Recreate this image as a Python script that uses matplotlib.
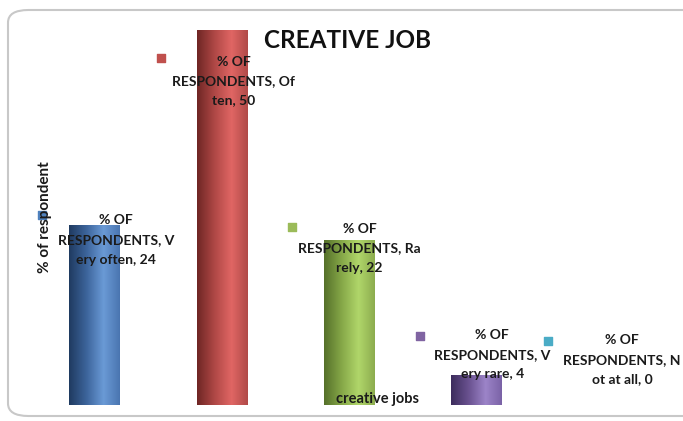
import numpy as np
import matplotlib
matplotlib.use("Agg")
import matplotlib.pyplot as plt
from matplotlib.colors import LinearSegmentedColormap
from matplotlib.patches import FancyBboxPatch

categories = ["Very often", "Often", "Rarely", "Very rare", "Not at all"]
values = [24, 50, 22, 4, 0]
label_texts = [
    "% OF\nRESPONDENTS, V\nery often, 24",
    "% OF\nRESPONDENTS, Of\nten, 50",
    "% OF\nRESPONDENTS, Ra\nrely, 22",
    "% OF\nRESPONDENTS, V\nery rare, 4",
    "% OF\nRESPONDENTS, N\not at all, 0",
]
base_colors = ["#4f81bd", "#c0504d", "#9bbb59", "#8064a2", "#4bacc6"]
grad_colors = [
    ["#1f3a60", "#3d659c", "#6a9ad6", "#4a75b0"],
    ["#6e2624", "#b04846", "#e06664", "#b04a48"],
    ["#55702a", "#86a848", "#b0d66a", "#8cac4e"],
    ["#3c2c5c", "#6a5290", "#9c84c8", "#7a62a6"],
    ["#2a7a8e", "#3ea0ba", "#6cc8e0", "#4ab0c8"],
]
# label anchor (x offset in category units, y in data units of block centre)
label_pos = [(0.17, 22.0), (0.09, 43.2), (0.08, 20.9), (0.12, 6.7), (0.14, 6.0)]
marker_pos = [(-0.41, 25.3), (-0.48, 46.3), (-0.45, 23.8), (-0.45, 9.2), (-0.44, 8.6)]

plt.rcParams['font.family'] = ['Lato', 'DejaVu Sans']

fig = plt.figure(figsize=(6.83, 4.21), dpi=100)

frame = FancyBboxPatch((8 / 683, 1 - 416 / 421), 700 / 683, 406 / 421,
                       boxstyle="round,pad=0,rounding_size=0.03",
                       transform=fig.transFigure, facecolor="white",
                       edgecolor="#c8c8c8", linewidth=1.5, zorder=-10)
fig.patches.append(frame)

ax = fig.add_axes([31 / 683, 16 / 421, 637 / 683, 375 / 421])
ax.set_zorder(1)
ax.set_facecolor("none")
x = np.arange(len(categories))
width = 0.4
bars = ax.bar(x, values, width=width, color=base_colors, zorder=2)

for b, gc in zip(bars, grad_colors):
    h = b.get_height()
    if h <= 0:
        continue
    cmap = LinearSegmentedColormap.from_list("g", list(zip([0, 0.35, 0.68, 1.0], gc)))
    grad = np.linspace(0, 1, 256).reshape(1, -1)
    im = ax.imshow(grad, cmap=cmap, aspect="auto",
                   extent=(b.get_x(), b.get_x() + b.get_width(), 0, h),
                   zorder=3)
    im.set_clip_path(b)

ax.set_xlim(-0.5, len(categories) - 0.5)
ax.set_ylim(0, 50)
for s in ax.spines.values():
    s.set_visible(False)
ax.set_xticks([])
ax.set_yticks([])

for i, (txt, (dx, ly), (mx, my)) in enumerate(zip(label_texts, label_pos, marker_pos)):
    ax.text(x[i] + dx, ly, txt, ha="center", va="center", fontsize=10,
            fontweight="bold", color="#1a1a1a", linespacing=1.75, zorder=5)
    ax.scatter([x[i] + mx], [my], marker="s", s=30, color=base_colors[i],
               zorder=4, clip_on=False)

fig.text(348 / 683, 1 - 40 / 421, "CREATIVE JOB", ha="center", va="center",
         fontsize=17.5, fontweight="bold", color="#111111", zorder=5)
fig.text(45 / 683, 1 - 217 / 421, "% of respondent", ha="center", va="center",
         rotation=90, fontsize=11, fontweight="bold", color="#1a1a1a", zorder=5)
fig.text(377 / 683, 1 - 399 / 421, "creative jobs", ha="center", va="center",
         fontsize=10.5, fontweight="bold", color="#1a1a1a", zorder=6)

fig.savefig("out.png", dpi=100)
